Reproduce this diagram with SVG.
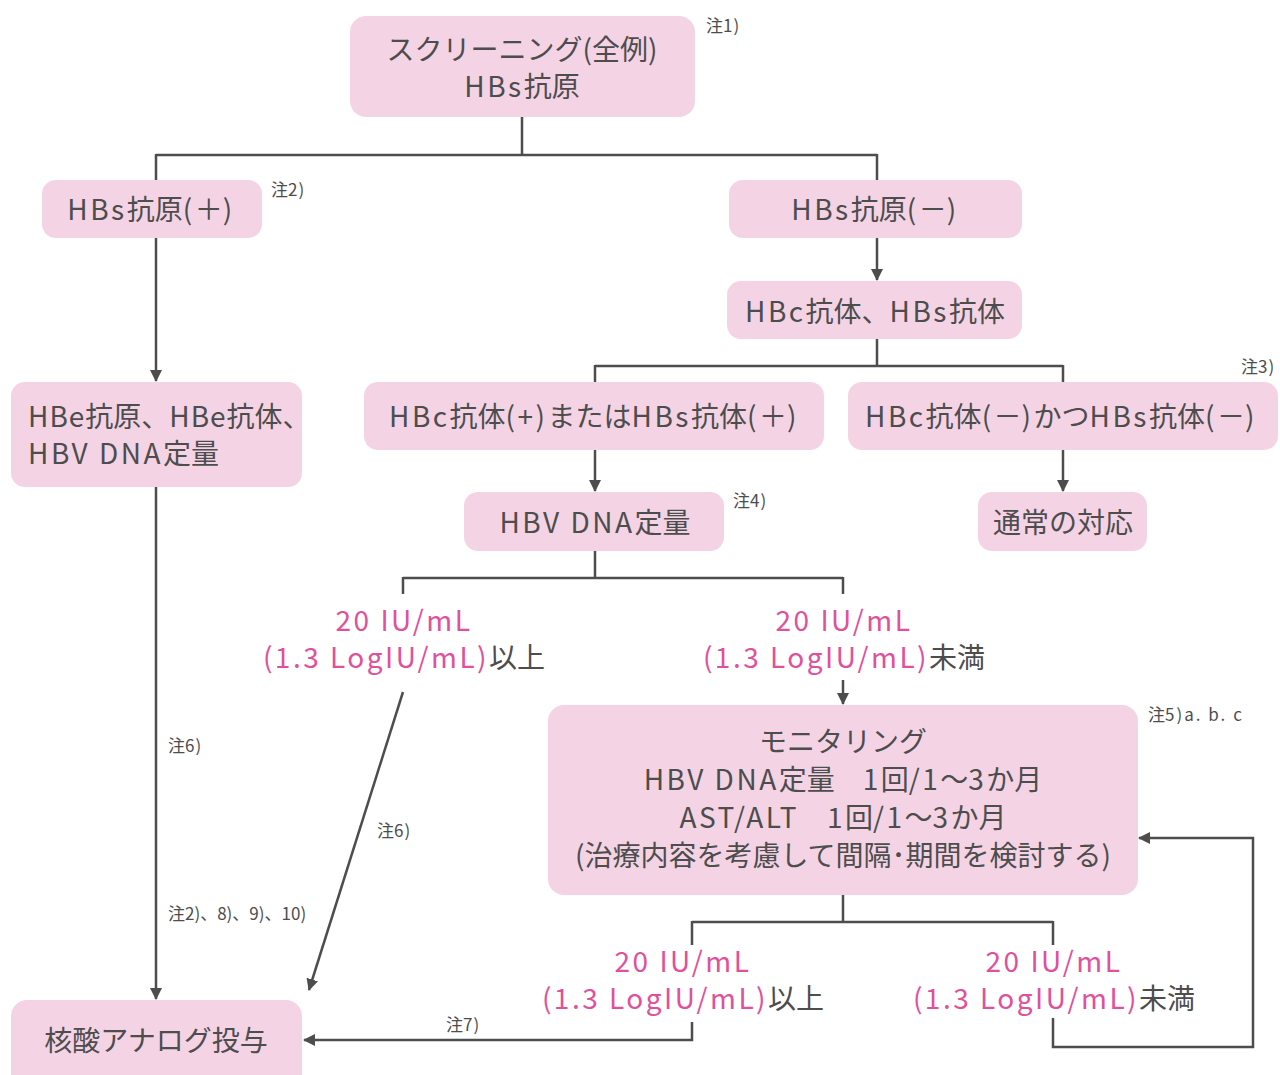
<svg xmlns="http://www.w3.org/2000/svg" width="1280" height="1075" viewBox="0 0 1280 1075">
<defs>
<style>
.box{fill:#f4d4e4;}
.t{font-family:"Noto Sans CJK JP","Noto Sans",sans-serif;font-size:28px;fill:#4d4d4d;text-anchor:middle;}
.L{letter-spacing:2.5px;}
.p{fill:#e0509b;}
.n{font-family:"Noto Sans CJK JP","Noto Sans",sans-serif;font-size:17px;fill:#4d4d4d;}
.ln{fill:none;stroke:#4d4d4d;stroke-width:2.5;}
</style>
<marker id="ah" markerWidth="12" markerHeight="12" refX="11" refY="6" orient="auto" markerUnits="userSpaceOnUse" viewBox="0 0 12 12">
<path d="M0,0 L12,6 L0,12 Z" fill="#4d4d4d"/>
</marker>
</defs>
<rect width="1280" height="1075" fill="#ffffff"/>

<g id="connectors">
<path class="ln" d="M522,117 V155 M156,155 H877 M156,154 V180 M877,154 V180"/>
<path class="ln" d="M156,238 V381" marker-end="url(#ah)"/>
<path class="ln" d="M877,238 V280" marker-end="url(#ah)"/>
<path class="ln" d="M877,339 V366 M595,366 H1063 M595,365 V382 M1063,365 V382"/>
<path class="ln" d="M595,450 V491" marker-end="url(#ah)"/>
<path class="ln" d="M1063,450 V491" marker-end="url(#ah)"/>
<path class="ln" d="M595,551 V578 M403,578 H843 M403,577 V594 M843,577 V594"/>
<path class="ln" d="M843,680 V704" marker-end="url(#ah)"/>
<path class="ln" d="M403,692 L309,990" marker-end="url(#ah)"/>
<path class="ln" d="M156,487 V999" marker-end="url(#ah)"/>
<path class="ln" d="M843,895 V922 M692,922 H1053 M692,921 V945 M1053,921 V945"/>
<path class="ln" d="M692,1022 V1040 H304" marker-end="url(#ah)"/>
<path class="ln" d="M1053,1018 V1047 H1253 V838 H1139" marker-end="url(#ah)"/>
</g>

<g id="n1"><rect class="box" x="350" y="16" width="345" height="101" rx="16"/>
<text class="t" x="522" y="60">スクリーニング(全例)</text>
<text class="t" x="522" y="97"><tspan class="L">HBs</tspan>抗原</text></g>
<g id="n2"><rect class="box" x="42" y="180" width="220" height="58" rx="14"/>
<text class="t" x="151" y="220"><tspan class="L">HBs</tspan>抗原<tspan class="L">(</tspan>＋<tspan class="L">)</tspan></text></g>
<g id="n3"><rect class="box" x="729" y="180" width="293" height="58" rx="14"/>
<text class="t" x="875" y="220"><tspan class="L">HBs</tspan>抗原<tspan class="L">(</tspan>－<tspan class="L">)</tspan></text></g>
<g id="n4"><rect class="box" x="727" y="281" width="295" height="58" rx="14"/>
<text class="t" x="875" y="322"><tspan class="L">HBc</tspan>抗体、<tspan class="L">HBs</tspan>抗体</text></g>
<g id="n5"><rect class="box" x="11" y="382" width="291" height="105" rx="14"/>
<text class="t" x="28" y="427" style="text-anchor:start"><tspan style="letter-spacing:1px">HBe</tspan>抗原、<tspan style="letter-spacing:1px">HBe</tspan>抗体、</text>
<text class="t" x="28" y="464" style="text-anchor:start"><tspan class="L">HBV DNA</tspan>定量</text></g>
<g id="n6"><rect class="box" x="364" y="382" width="460" height="68" rx="14"/>
<text class="t" x="594" y="427"><tspan class="L">HBc</tspan>抗体<tspan class="L">(+)</tspan>または<tspan class="L">HBs</tspan>抗体<tspan class="L">(</tspan>＋<tspan class="L">)</tspan></text></g>
<g id="n7"><rect class="box" x="848" y="382" width="430" height="68" rx="14"/>
<text class="t" x="1061" y="427"><tspan class="L">HBc</tspan>抗体<tspan class="L">(</tspan>－<tspan class="L">)</tspan>かつ<tspan class="L">HBs</tspan>抗体<tspan class="L">(</tspan>－<tspan class="L">)</tspan></text></g>
<g id="n8"><rect class="box" x="464" y="492" width="260" height="59" rx="14"/>
<text class="t" x="595" y="533"><tspan class="L">HBV DNA</tspan>定量</text></g>
<g id="n9"><rect class="box" x="978" y="492" width="169" height="59" rx="14"/>
<text class="t" x="1063" y="533">通常の対応</text></g>
<g id="n10"><rect class="box" x="548" y="705" width="590" height="190" rx="16"/>
<text class="t" x="843" y="752">モニタリング</text>
<text class="t" x="843" y="790"><tspan class="L">HBV DNA</tspan>定量　<tspan class="L">1</tspan>回<tspan class="L">/1</tspan>～<tspan class="L">3</tspan>か月</text>
<text class="t" x="843" y="828"><tspan class="L">AST/ALT</tspan>　<tspan class="L">1</tspan>回<tspan class="L">/1</tspan>～<tspan class="L">3</tspan>か月</text>
<text class="t" x="843" y="866">(治療内容を考慮して間隔･期間を検討する)</text></g>
<g id="n11"><rect class="box" x="11" y="1000" width="291" height="90" rx="16"/>
<text class="t" x="156" y="1051">核酸アナログ投与</text></g>

<g id="labels">
<text class="t p L" x="404" y="631">20 IU/mL</text>
<text class="t" x="404" y="668"><tspan class="p L">(1.3 LogIU/mL)</tspan>以上</text>
<text class="t p L" x="844" y="631">20 IU/mL</text>
<text class="t" x="844" y="668"><tspan class="p L">(1.3 LogIU/mL)</tspan>未満</text>
<text class="t p L" x="683" y="972">20 IU/mL</text>
<text class="t" x="683" y="1009"><tspan class="p L">(1.3 LogIU/mL)</tspan>以上</text>
<text class="t p L" x="1054" y="972">20 IU/mL</text>
<text class="t" x="1054" y="1009"><tspan class="p L">(1.3 LogIU/mL)</tspan>未満</text>
</g>

<g id="notes">
<text class="n" x="706" y="32">注<tspan style="letter-spacing:1px">1)</tspan></text>
<text class="n" x="271" y="196">注<tspan style="letter-spacing:1px">2)</tspan></text>
<text class="n" x="1241" y="373">注<tspan style="letter-spacing:1px">3)</tspan></text>
<text class="n" x="733" y="507">注<tspan style="letter-spacing:1px">4)</tspan></text>
<text class="n" x="1148" y="721">注<tspan style="letter-spacing:2px">5)a. b. c</tspan></text>
<text class="n" x="168" y="752">注<tspan style="letter-spacing:1px">6)</tspan></text>
<text class="n" x="377" y="837">注<tspan style="letter-spacing:1px">6)</tspan></text>
<text class="n" x="168" y="920">注2)、8)、9)、10)</text>
<text class="n" x="446" y="1031">注<tspan style="letter-spacing:1px">7)</tspan></text>
</g>
</svg>
